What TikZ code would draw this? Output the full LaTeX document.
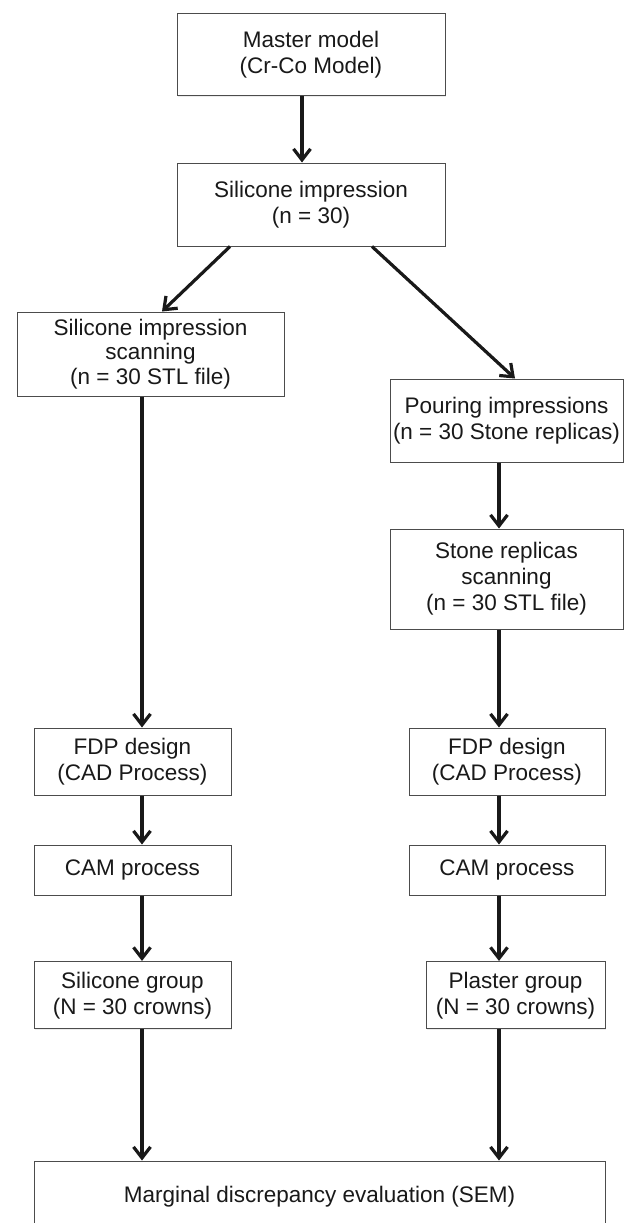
\documentclass[tikz,border=0pt]{standalone}
\usepackage{fontspec}
\setmainfont{Liberation Sans}
\usetikzlibrary{arrows.meta,shadows}
\begin{document}
\begin{tikzpicture}[x=1pt,y=-1pt,
  box/.style={draw=black!70, line width=1pt, fill=white, align=center, inner sep=0pt,
    font=\fontsize{22.5}{26}\selectfont, text=black!90,
    drop shadow={opacity=0.15, shadow xshift=1.2pt, shadow yshift=-1.2pt}},
  arr/.style={line width=3.2pt, draw=black!90, -{Straight Barb[length=11pt,width=17pt]}}]
\useasboundingbox (0,0) rectangle (625,1223);
\coordinate (cm) at (302,0);
\coordinate (cl) at (142,0);
\coordinate (cr) at (499,0);
\node[box, minimum width=268pt, minimum height=82pt] (master) at (311,54.7) {Master model\\(Cr-Co Model)};
\node[box, minimum width=268pt, minimum height=83pt] (si) at (311,204.5) {Silicone impression\\(n = 30)};
\node[box, minimum width=267pt, minimum height=84pt, font=\fontsize{22.5}{24.5}\selectfont] (siscan) at (150.5,354) {Silicone impression\\scanning\\(n = 30 STL file)};
\node[box, minimum width=233pt, minimum height=83pt] (pour) at (506.5,420.5) {Pouring impressions\\(n = 30 Stone replicas)};
\node[box, minimum width=233pt, minimum height=100pt] (stone) at (506.5,579) {Stone replicas\\scanning\\(n = 30 STL file)};
\node[box, minimum width=197pt, minimum height=67pt] (fdpl) at (132.5,761.5) {FDP design\\(CAD Process)};
\node[box, minimum width=196pt, minimum height=67pt] (fdpr) at (507,761.5) {FDP design\\(CAD Process)};
\node[box, minimum width=197pt, minimum height=50pt] (caml) at (132.5,870) {CAM process};
\node[box, minimum width=196pt, minimum height=50pt] (camr) at (507,870) {CAM process};
\node[box, minimum width=197pt, minimum height=67.5pt] (silg) at (132.5,995.2) {Silicone group\\(N = 30 crowns)};
\node[box, minimum width=179pt, minimum height=67.5pt] (plg) at (515.5,995.2) {Plaster group\\(N = 30 crowns)};
\node[box, minimum width=571pt, minimum height=72pt] (sem) at (319.5,1197) {Marginal discrepancy evaluation (SEM)};
\draw[arr] (master.south -| cm) -- (si.north -| cm);
\draw[arr] ([xshift=-81pt]si.south) -- ([xshift=11.5pt]siscan.north);
\draw[arr] ([xshift=61pt]si.south) -- ([xshift=8.5pt]pour.north);
\draw[arr] (siscan.south -| cl) -- (fdpl.north -| cl);
\draw[arr] (fdpl.south -| cl) -- (caml.north -| cl);
\draw[arr] (caml.south -| cl) -- (silg.north -| cl);
\draw[arr] (silg.south -| cl) -- (sem.north -| cl);
\draw[arr] (pour.south -| cr) -- (stone.north -| cr);
\draw[arr] (stone.south -| cr) -- (fdpr.north -| cr);
\draw[arr] (fdpr.south -| cr) -- (camr.north -| cr);
\draw[arr] (camr.south -| cr) -- (plg.north -| cr);
\draw[arr] (plg.south -| cr) -- (sem.north -| cr);
\end{tikzpicture}
\end{document}
